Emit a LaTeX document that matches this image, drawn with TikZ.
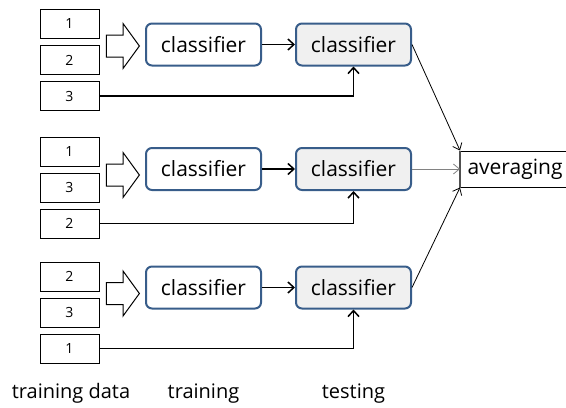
\documentclass[tikz,border=0pt]{standalone}
\usepackage{fontspec}
\setmainfont{Open Sans}
\usetikzlibrary{shapes.arrows, arrows.meta, positioning}
\definecolor{clsblue}{RGB}{56, 93, 138}
\definecolor{testgray}{RGB}{240, 240, 240}
\definecolor{avggray}{RGB}{80, 80, 80}
\definecolor{midgray}{RGB}{130, 130, 130}

\begin{document}
\begin{tikzpicture}[
    x=0.5pt, y=-0.5pt,
    node distance=3pt,
    font=\fontsize{10}{12}\selectfont,
    databox/.style={
        draw, 
        line width=0.5pt, 
        minimum width=29.5pt, 
        minimum height=14.5pt, 
        inner sep=0pt, 
        font=\fontsize{7}{8}\selectfont
    },
    fatarrow/.style={
        single arrow, 
        draw, 
        line width=0.5pt, 
        fill=white, 
        inner xsep=0pt, 
        inner ysep=5.25pt, 
        minimum height=16.5pt, 
        single arrow head extend=5.75pt, 
        single arrow tip angle=108
    },
    trainbox/.style={
        draw=clsblue, 
        line width=1pt, 
        rounded corners=3pt, 
        minimum width=57.5pt, 
        minimum height=21pt, 
        fill=white, 
        font=\fontsize{10.5}{12}\selectfont
    },
    testbox/.style={trainbox, fill=testgray},
    avgbox/.style={
        draw, 
        line width=0.5pt, 
        minimum height=18pt, 
        text width=50pt, 
        inner xsep=3.5pt, 
        align=left, 
        font=\fontsize{10.5}{12}\selectfont
    },
    stepline/.style={line width=0.75pt, -{Straight Barb[length=3pt, width=5.5pt]}},
    joinline/.style={line width=0.4pt, -{Straight Barb[length=3pt, width=5pt]}}
]

    \useasboundingbox (0,0) rectangle (566,407);

    % Fold 1
    \node[databox] (d11) at (69.5,24) {1};
    \node[databox, below=of d11] (d12) {2};
    \node[databox, below=of d12] (d13) {3};
    \node[fatarrow, anchor=tip] (fat1) at (140,46) {};
    \node[trainbox] (c11) at (203.5,44.5) {classifier};
    \node[testbox] (c12) at (353.5,44.5) {classifier};

    % Fold 2
    \node[databox] (d21) at (69.5,151.5) {1};
    \node[databox, below=of d21] (d22) {3};
    \node[databox, below=of d22] (d23) {2};
    \node[fatarrow, anchor=tip] (fat2) at (140,175) {};
    \node[trainbox] (c21) at (203.5,169) {classifier};
    \node[testbox] (c22) at (353.5,169) {classifier};

    % Fold 3
    \node[databox] (d31) at (69.5,276.5) {2};
    \node[databox, below=of d31] (d32) {3};
    \node[databox, below=of d32] (d33) {1};
    \node[fatarrow, anchor=tip] (fat3) at (140,293.5) {};
    \node[trainbox] (c31) at (203.5,287.5) {classifier};
    \node[testbox] (c32) at (353.5,287.5) {classifier};

    % Averaging
    \node[avgbox, anchor=west] (avg) at (460,169) {averaging};
    \draw[line width=1pt, avggray] (avg.north west) -- (avg.south west);

    % Column labels
    \node[anchor=base] (lbldata) at (71,398) {training data};
    \node[anchor=base] (lbltrain) at (203.5,398) {training};
    \node[anchor=base] (lbltest) at (353.5,398) {testing};

    % Edges
    \draw[stepline] (c11) -- (c12);
    \draw[stepline] (c21) -- (c22);
    \draw[stepline] (c31) -- (c32);
    \draw[stepline] (d13.east) -| (c12.south);
    \draw[stepline] (d23.east) -| (c22.south);
    \draw[stepline] (d33.east) -| (c32.south);
    \draw[joinline] (c12.east) -- (avg.north west);
    \draw[joinline, midgray] (c22.east) -- (avg.west);
    \draw[joinline] (c32.east) -- (avg.south west);

\end{tikzpicture}
\end{document}
